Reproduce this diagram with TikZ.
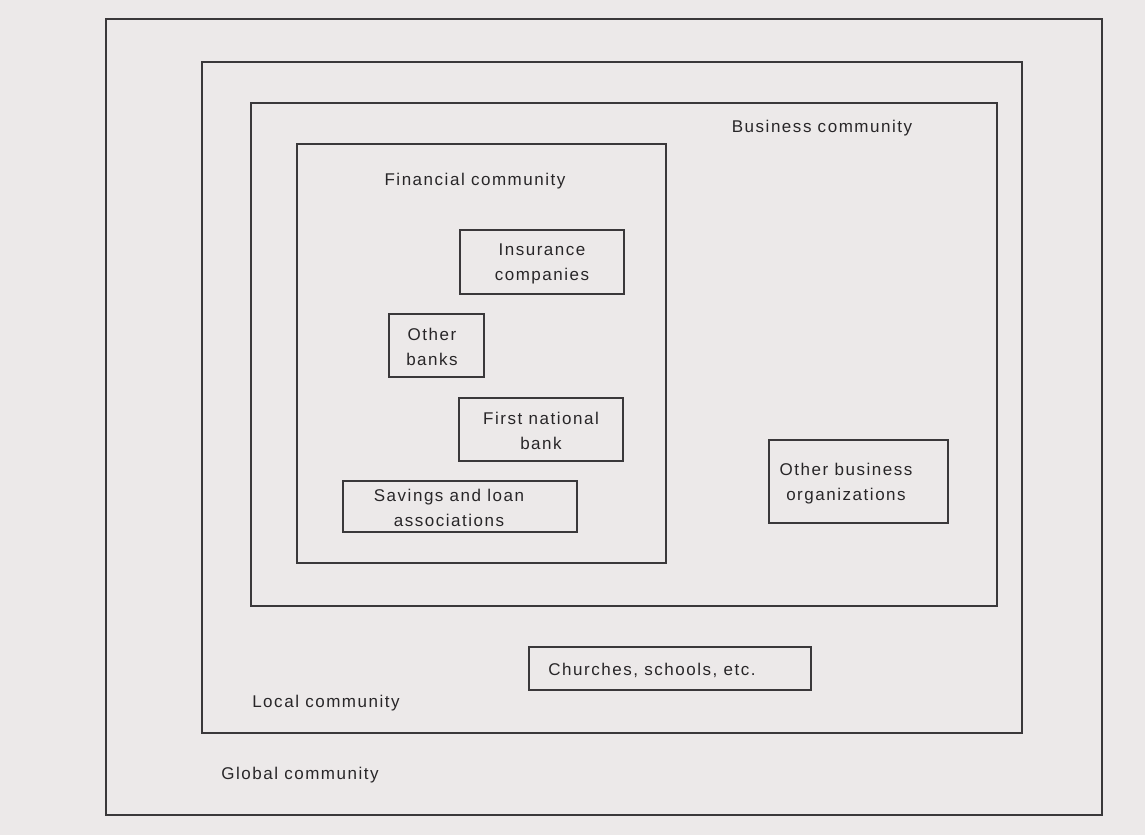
\documentclass[tikz,border=0pt]{standalone}
\usepackage{fontspec}
\setmainfont{Liberation Sans}[LetterSpace=9]
\definecolor{paper}{RGB}{236,233,233}
\definecolor{ink}{RGB}{58,56,58}
\definecolor{inktext}{RGB}{40,38,40}
\begin{document}
\begin{tikzpicture}[x=1pt,y=-1pt,
  frame/.style={draw=ink,line width=1.5pt},
  orgbox/.style={draw=ink,line width=1.1pt,inner sep=0pt},
  lbl/.style={text=inktext,inner sep=0pt,align=center,
    font=\fontsize{17}{25}\selectfont}]
% sheet
\fill[paper] (0,0) rectangle (1145,835);
\useasboundingbox (0,0) rectangle (1145,835);

% nested communities
\draw[frame] (106,19) rectangle (1102,815);
\draw[frame] (202,62) rectangle (1022,733);
\draw[frame] (251,103) rectangle (997,606);
\draw[frame] (297,144) rectangle (666,563);

% community labels
\node[lbl] (global)    at (300,775) {Global community};
\node[lbl] (local)     at (326,703) {Local community};
\node[lbl] (business)  at (822,128) {Business community};
\node[lbl] (financial) at (475,181) {Financial community};

% organisations (box, then its caption)
\node[orgbox,minimum width=164pt,minimum height=64pt] (ins) at (542,262) {};
\node[lbl] (instext) at (542,264) {Insurance\\companies};

\node[orgbox,minimum width=95pt,minimum height=63pt] (oth) at (436.5,345.5) {};
\node[lbl] (othtext) at (432,347) {Other\\banks};

\node[orgbox,minimum width=164pt,minimum height=63pt] (fnb) at (541,429.5) {};
\node[lbl] (fnbtext) at (541,431) {First national\\bank};

\node[orgbox,minimum width=234pt,minimum height=51pt] (sav) at (460,506.5) {};
\node[lbl] (savtext) at (449,508) {Savings and loan\\associations};

\node[orgbox,minimum width=179pt,minimum height=83pt] (obo) at (858.5,481.5) {};
\node[lbl] (obotext) at (846,484) {Other business\\organizations};

\node[orgbox,minimum width=282pt,minimum height=43pt] (chu) at (670,668.5) {};
\node[lbl] (chutext) at (652,670) {Churches, schools, etc.};
\end{tikzpicture}
\end{document}
